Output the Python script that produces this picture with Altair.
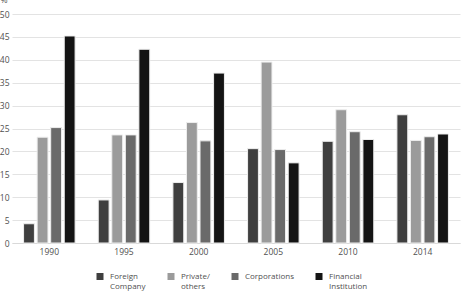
import altair as alt
import pandas as pd

years = ["1990", "1995", "2000", "2005", "2010", "2014"]
categories = ["Foreign Company", "Private/ others", "Corporations", "Financial Institution"]
foreign = [4.2, 9.4, 13.2, 20.6, 22.2, 28.0]
private = [23.1, 23.6, 26.3, 39.5, 29.1, 22.4]
corporations = [25.2, 23.6, 22.3, 20.4, 24.3, 23.2]
financial = [45.2, 42.3, 37.1, 17.5, 22.6, 23.8]
colors = ["#3f3f3f", "#9b9b9b", "#6a6a6a", "#141414"]
y_ticks = [0, 5, 10, 15, 20, 25, 30, 35, 40, 45, 50]

series = [foreign, private, corporations, financial]
rows = []
for cat, vals in zip(categories, series):
    for yr, v in zip(years, vals):
        rows.append({"year": yr, "category": cat, "value": v})
df = pd.DataFrame(rows)

font = "Open Sans"
text_color = "#505050"
fs = 8.5
lfs = 8

chart = alt.Chart(df).mark_bar(stroke="#eeeeee", strokeWidth=1).encode(
    x=alt.X(
        "year:N", sort=years,
        scale=alt.Scale(paddingInner=0.31, paddingOuter=0.155),
        axis=alt.Axis(title=None, labelAngle=0, ticks=False, domainColor="#d9d9d9",
                      labelPadding=4, labelFontSize=fs, labelColor=text_color, labelFont=font),
    ),
    xOffset=alt.XOffset("category:N", sort=categories, scale=alt.Scale(paddingInner=0.2)),
    y=alt.Y(
        "value:Q",
        scale=alt.Scale(domain=[0, 50], nice=False),
        axis=alt.Axis(values=y_ticks, title="%", titleAngle=0, titleX=-12, titleY=-10,
                      titleAlign="left", titleFontSize=fs, titleFontWeight="normal",
                      titleColor=text_color, titleFont=font,
                      domain=False, ticks=False, labelPadding=3, gridColor="#e3e3e3",
                      labelFontSize=fs, labelColor=text_color, labelFont=font),
    ),
    color=alt.Color(
        "category:N", sort=categories,
        scale=alt.Scale(domain=categories, range=colors),
        legend=alt.Legend(title=None, orient="none", legendX=84, legendY=254.5,
                          direction="horizontal", columns=4,
                          symbolType="M-1,0.14H1V2.14H-1Z",
                          symbolSize=49, symbolStrokeWidth=0,
                          labelExpr="indexof(datum.label, ' ') > 0 ? split(datum.label, ' ') : [datum.label, '']",
                          labelBaseline="top",
                          columnPadding=21, labelOffset=6,
                          labelFontSize=lfs, labelColor=text_color, labelFont=font),
    ),
).properties(
    width=448, height=229,
    autosize="none",
    padding={"left": 12, "top": 14, "right": 2, "bottom": 50},
).configure_view(stroke=None)

chart.save("out.html", embed_options={"renderer": "svg", "actions": False})
